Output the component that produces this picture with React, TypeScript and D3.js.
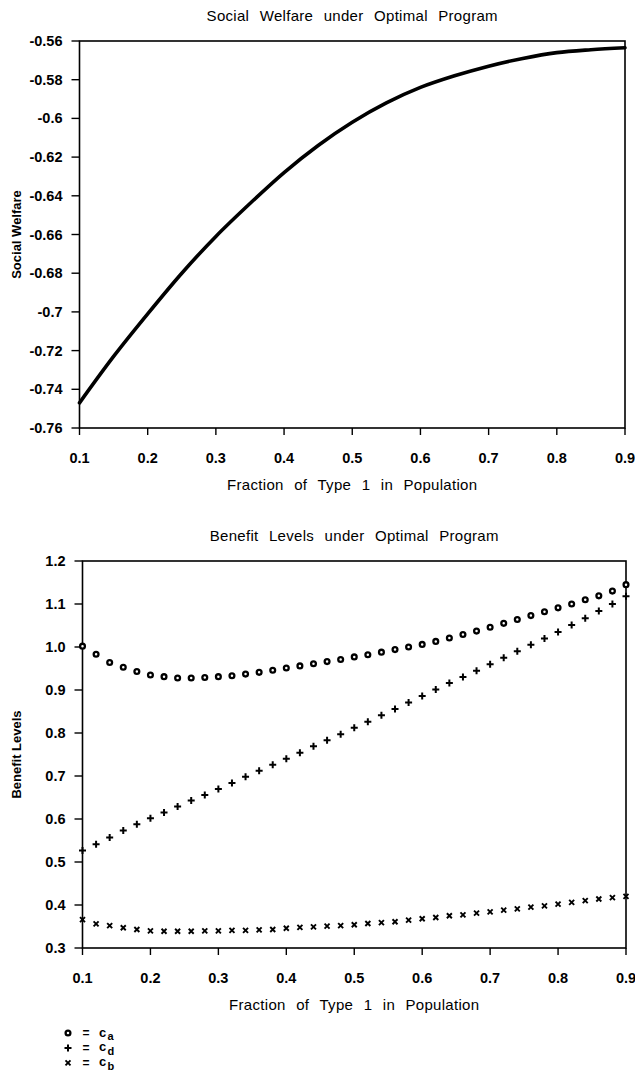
import React from "react";
import * as d3 from "d3";

// top panel: social welfare
const welfareX = [0.10, 0.15, 0.20, 0.25, 0.30, 0.35, 0.40, 0.45, 0.50, 0.55, 0.60, 0.65, 0.70, 0.75, 0.80, 0.85, 0.90];
const welfareY = [-0.747, -0.723, -0.701, -0.680, -0.661, -0.644, -0.628, -0.614, -0.602, -0.592, -0.584, -0.578, -0.573, -0.569, -0.566, -0.5645, -0.5635];

// bottom panel: benefit levels
const fracX = [
  0.10, 0.12, 0.14, 0.16, 0.18, 0.20, 0.22, 0.24, 0.26, 0.28,
  0.30, 0.32, 0.34, 0.36, 0.38, 0.40, 0.42, 0.44, 0.46, 0.48,
  0.50, 0.52, 0.54, 0.56, 0.58, 0.60, 0.62, 0.64, 0.66, 0.68,
  0.70, 0.72, 0.74, 0.76, 0.78, 0.80, 0.82, 0.84, 0.86, 0.88, 0.90,
];
const cA = [
  1.002, 0.983, 0.964, 0.953, 0.943, 0.935, 0.931, 0.928, 0.928, 0.929,
  0.931, 0.933, 0.937, 0.941, 0.946, 0.951, 0.956, 0.961, 0.966, 0.971,
  0.977, 0.982, 0.988, 0.994, 1.000, 1.006, 1.013, 1.021, 1.029, 1.037,
  1.046, 1.055, 1.064, 1.073, 1.082, 1.091, 1.100, 1.110, 1.119, 1.130, 1.145,
];
const cD = [
  0.527, 0.541, 0.557, 0.573, 0.588, 0.602, 0.615, 0.629, 0.643, 0.656,
  0.670, 0.684, 0.698, 0.712, 0.726, 0.740, 0.754, 0.769, 0.783, 0.797,
  0.812, 0.826, 0.841, 0.856, 0.871, 0.886, 0.901, 0.916, 0.930, 0.945,
  0.960, 0.975, 0.990, 1.005, 1.020, 1.035, 1.051, 1.067, 1.084, 1.100, 1.118,
];
const cB = [
  0.366, 0.356, 0.352, 0.347, 0.343, 0.340, 0.339, 0.339, 0.339, 0.340,
  0.340, 0.341, 0.341, 0.342, 0.343, 0.346, 0.348, 0.349, 0.351, 0.352,
  0.354, 0.357, 0.359, 0.361, 0.365, 0.368, 0.371, 0.375, 0.377, 0.381,
  0.384, 0.388, 0.391, 0.395, 0.398, 0.402, 0.406, 0.410, 0.414, 0.417, 0.420,
];

const xTicks = [0.1, 0.2, 0.3, 0.4, 0.5, 0.6, 0.7, 0.8, 0.9];
const xTickLabels = ["0.1", "0.2", "0.3", "0.4", "0.5", "0.6", "0.7", "0.8", "0.9"];
const welfareTicks = [-0.56, -0.58, -0.6, -0.62, -0.64, -0.66, -0.68, -0.7, -0.72, -0.74, -0.76];
const welfareTickLabels = ["-0.56", "-0.58", "-0.6", "-0.62", "-0.64", "-0.66", "-0.68", "-0.7", "-0.72", "-0.74", "-0.76"];
const benefitTicks = [1.2, 1.1, 1.0, 0.9, 0.8, 0.7, 0.6, 0.5, 0.4, 0.3];
const benefitTickLabels = ["1.2", "1.1", "1.0", "0.9", "0.8", "0.7", "0.6", "0.5", "0.4", "0.3"];

const legendKeys = ["circle", "plus", "cross"];
const legendSubs = ["a", "d", "b"];

const FONT = "'Liberation Sans', Arial, Helvetica, sans-serif";
const titleStyle = { fontFamily: FONT, fontSize: 15, letterSpacing: 0.3, wordSpacing: 6 };
const tickStyle = { fontFamily: FONT, fontSize: 14.5, fontWeight: 700 };

function Marker({ kind, x, y }: { kind: string; x: number; y: number }) {
  if (kind === "circle") {
    return <circle cx={x} cy={y} r={2.4} fill="#fff" stroke="#000" strokeWidth={2.3} />;
  }
  if (kind === "plus") {
    const s = 3.5;
    return (
      <path d={`M${x - s},${y}H${x + s}M${x},${y - s}V${y + s}`} stroke="#000" strokeWidth={2} />
    );
  }
  const s = 2.5;
  return (
    <path d={`M${x - s},${y - s}L${x + s},${y + s}M${x - s},${y + s}L${x + s},${y - s}`} stroke="#000" strokeWidth={1.9} />
  );
}

function Panel({
  x, y, ticks, tickLabels, title, yTitle, children,
}: {
  x: d3.ScaleLinear<number, number>;
  y: d3.ScaleLinear<number, number>;
  ticks: number[];
  tickLabels: string[];
  title: string;
  yTitle: string;
  children: React.ReactNode;
}) {
  const [x0, x1] = x.range();
  const [y0, y1] = y.range(); // y0 bottom, y1 top
  const cx = (x0 + x1) / 2;
  return (
    <g>
      <text x={cx} y={y1 - 26} textAnchor="middle" dominantBaseline="central" style={titleStyle}>{title}</text>
      <rect x={x0} y={y1} width={x1 - x0} height={y0 - y1} fill="none" stroke="#000" strokeWidth={1.6} />
      {ticks.map((t, i) => (
        <g key={"y" + i}>
          <line x1={x0 - 8} x2={x0} y1={y(t)} y2={y(t)} stroke="#000" strokeWidth={1.4} />
          <text x={x0 - 17} y={y(t)} textAnchor="end" dominantBaseline="central" style={tickStyle}>{tickLabels[i]}</text>
        </g>
      ))}
      {xTicks.map((t, i) => (
        <g key={"x" + i}>
          <line x1={x(t)} x2={x(t)} y1={y0} y2={y0 + 7} stroke="#000" strokeWidth={1.4} />
          <text x={x(t)} y={y0 + 30} textAnchor="middle" dominantBaseline="central" style={tickStyle}>{xTickLabels[i]}</text>
        </g>
      ))}
      <text x={cx} y={y0 + 56} textAnchor="middle" dominantBaseline="central" style={titleStyle}>Fraction of Type 1 in Population</text>
      <text
        transform={`translate(16,${(y0 + y1) / 2}) rotate(-90)`}
        textAnchor="middle"
        dominantBaseline="central"
        style={{ fontFamily: FONT, fontSize: 13, fontWeight: 700 }}
      >
        {yTitle}
      </text>
      {children}
    </g>
  );
}

export default function App() {
  const xTop = d3.scaleLinear().domain([0.1, 0.9]).range([79.5, 625]);
  const yTop = d3.scaleLinear().domain([-0.76, -0.56]).range([428, 41]);
  const xBot = d3.scaleLinear().domain([0.1, 0.9]).range([82.5, 626]);
  const yBot = d3.scaleLinear().domain([0.3, 1.2]).range([948, 561]);

  const welfareLine = d3
    .line<number>()
    .x((_, i) => xTop(welfareX[i]))
    .y((d) => yTop(d))
    .curve(d3.curveMonotoneX)(welfareY) as string;

  const series = [cA, cD, cB];
  const legendFont = { fontFamily: FONT, fontWeight: 700 };

  return (
    <div style={{ position: "absolute", left: 0, top: 0 }}>
      <svg width={635} height={1073} style={{ display: "block", background: "#fff" }}>
        <Panel x={xTop} y={yTop} ticks={welfareTicks} tickLabels={welfareTickLabels}
          title="Social Welfare under Optimal Program" yTitle="Social Welfare">
          <path d={welfareLine} fill="none" stroke="#000" strokeWidth={3.6} strokeLinecap="round" />
        </Panel>
        <Panel x={xBot} y={yBot} ticks={benefitTicks} tickLabels={benefitTickLabels}
          title="Benefit Levels under Optimal Program" yTitle="Benefit Levels">
          {series.map((vals, si) =>
            vals.map((v, i) => (
              <Marker key={si + "-" + i} kind={legendKeys[si]} x={xBot(fracX[i])} y={yBot(v)} />
            ))
          )}
        </Panel>
        {legendKeys.map((k, i) => (
          <g key={k} transform={`translate(0,${1033 + i * 14.9})`}>
            <Marker kind={k} x={68} y={0} />
            <text x={86} y={0} textAnchor="middle" dominantBaseline="central" style={{ ...legendFont, fontSize: 12 }}>=</text>
            <text x={99} y={-1} dominantBaseline="central" style={{ ...legendFont, fontSize: 13 }}>c</text>
            <text x={107.5} y={3} dominantBaseline="central" style={{ ...legendFont, fontSize: 11 }}>{legendSubs[i]}</text>
          </g>
        ))}
      </svg>
    </div>
  );
}
